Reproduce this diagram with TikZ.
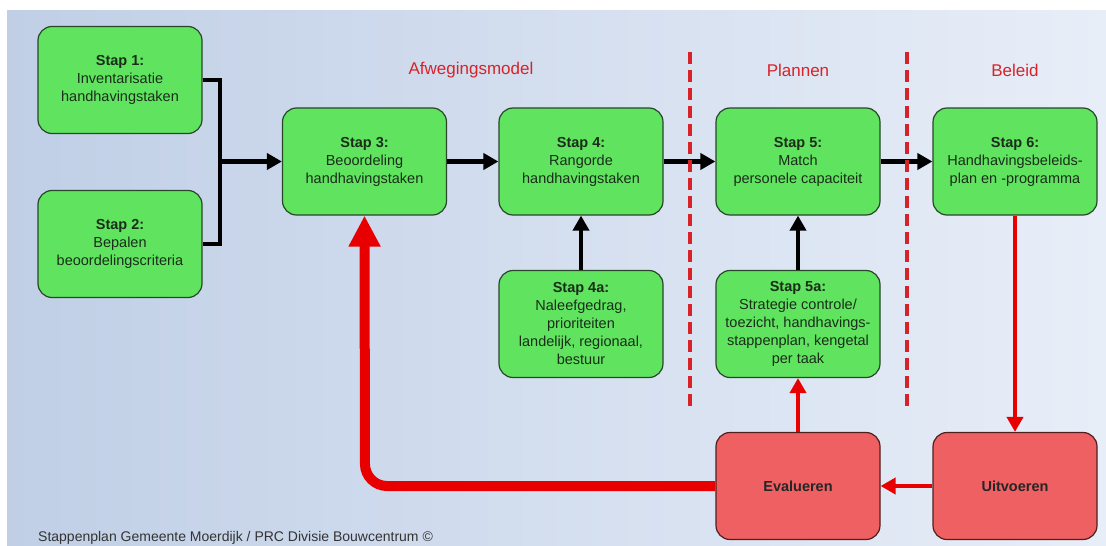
\documentclass[tikz,border=0pt]{standalone}
\usepackage{fontspec}
\setmainfont{Liberation Sans}
\usetikzlibrary{arrows.meta}
\definecolor{boxgreen}{RGB}{96,228,96}
\definecolor{greenedge}{RGB}{40,70,40}
\definecolor{boxred}{RGB}{238,96,98}
\definecolor{rededge}{RGB}{80,30,30}
\definecolor{linered}{RGB}{232,0,0}
\definecolor{labelred}{RGB}{215,35,40}
\definecolor{bgleft}{RGB}{192,207,230}
\definecolor{bgright}{RGB}{232,238,248}
\definecolor{textdark}{RGB}{25,45,25}
\tikzset{
  greenbox/.style={draw=greenedge, line width=1.2pt, fill=boxgreen, rounded corners=14pt,
    minimum width=164pt, minimum height=107pt, inner sep=1pt, align=center,
    text=textdark, font=\fontsize{14.5}{18}\selectfont},
  redbox/.style={draw=rededge, line width=1.2pt, fill=boxred, rounded corners=14pt,
    minimum width=164pt, minimum height=107pt, inner sep=1pt, align=center,
    text=black!85, font=\fontsize{14.5}{18}\selectfont\bfseries},
  blackarrow/.style={line width=4.5pt, draw=black, -{Triangle[length=15pt,width=16pt]}},
  redarrow/.style={line width=4.5pt, draw=linered, -{Triangle[length=15pt,width=16pt]}},
  bigredarrow/.style={line width=10pt, draw=linered, rounded corners=22pt, -{Triangle[length=31pt,width=30pt]}},
  plainline/.style={line width=4.5pt, draw=black},
  divider/.style={draw=labelred, line width=3.5pt, dash pattern=on 12pt off 6pt},
  phase/.style={text=labelred, font=\fontsize{17}{20}\selectfont},
}
\begin{document}
\begin{tikzpicture}[x=1pt,y=-1pt]
\useasboundingbox (0,0) rectangle (1106,546);
\fill[white] (0,0) rectangle (1106,546);
\shade[left color=bgleft, right color=bgright] (7,10) rectangle (1106,546);

\node[greenbox] (s1) at (120,80) {\textbf{Stap 1:}\\Inventarisatie\\handhavingstaken};
\node[greenbox] (s2) at (120,244) {\textbf{Stap 2:}\\Bepalen\\beoordelingscriteria};
\node[greenbox] (s3) at (364.5,161.5) {\textbf{Stap 3:}\\Beoordeling\\handhavingstaken};
\node[greenbox] (s4) at (581,161.5) {\textbf{Stap 4:}\\Rangorde\\handhavingstaken};
\node[greenbox] (s5) at (798,161.5) {\textbf{Stap 5:}\\Match\\personele capaciteit};
\node[greenbox] (s6) at (1015,161.5) {\textbf{Stap 6:}\\Handhavingsbeleids-\\plan en -programma};
\node[greenbox] (s4a) at (581,324) {\textbf{Stap 4a:}\\Naleefgedrag,\\prioriteiten\\landelijk, regionaal,\\bestuur};
\node[greenbox] (s5a) at (798,324) {\textbf{Stap 5a:}\\Strategie controle/\\toezicht, handhavings-\\stappenplan, kengetal\\per taak};
\node[redbox] (ev) at (798,486) {Evalueren};
\node[redbox] (ui) at (1015,486) {Uitvoeren};

\node[phase] (pa) at (471,70) {Afwegingsmodel};
\node[phase] (pp) at (798,70) {Plannen};
\node[phase] (pb) at (1015,70) {Beleid};

\coordinate (j1) at (220,80);
\coordinate (j2) at (220,244);
\coordinate (jm) at (220,161.5);
\draw[plainline, line join=miter] (s1.east |- j1) -- (j1) -- (j2) -- (s2.east |- j2);
\draw[blackarrow] (jm) -- (s3.west);
\draw[blackarrow] (s3.east) -- (s4.west);
\draw[blackarrow] (s4.east) -- (s5.west);
\draw[blackarrow] (s5.east) -- (s6.west);
\draw[blackarrow] (s4a.north) -- (s4.south);
\draw[blackarrow] (s5a.north) -- (s5.south);
\draw[redarrow] (s6.south) -- (ui.north);
\draw[redarrow] (ui.west) -- (ev.east);
\draw[redarrow] (ev.north) -- (s5a.south);
\draw[bigredarrow] (ev.west) -- (365,486) -- (s3.south);

\coordinate (d1t) at (690,52);
\coordinate (d1b) at (690,410);
\coordinate (d2t) at (907,52);
\coordinate (d2b) at (907,410);
\draw[divider] (d1t) -- (d1b);
\draw[divider] (d2t) -- (d2b);

\node[anchor=base west, font=\fontsize{14}{17}\selectfont, text=black!80, inner sep=0pt] (foot) at (38,541) {Stappenplan Gemeente Moerdijk / PRC Divisie Bouwcentrum \textcopyright};
\end{tikzpicture}
\end{document}
